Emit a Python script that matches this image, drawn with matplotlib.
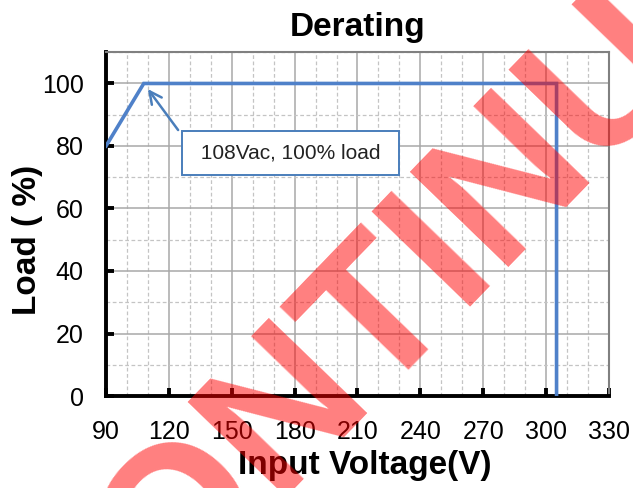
import matplotlib.pyplot as plt
from matplotlib.ticker import MultipleLocator

# derating curve
voltage = [90, 108, 305, 305]
load = [80, 100, 100, 0]

x_ticks = [90, 120, 150, 180, 210, 240, 270, 300, 330]
y_ticks = [0, 20, 40, 60, 80, 100]

note_text = " 108Vac, 100% load "
note_xy = (108, 100)
note_box = (178, 77.9)
note_corner = (124.4, 85.1)

watermark = "DISCONTINUED"

plt.rcParams['font.family'] = ['Liberation Sans', 'DejaVu Sans']

fig = plt.figure(figsize=(6.33, 4.88), dpi=100)
ax = fig.add_axes([0.1675, 0.1885, 0.7945, 0.7045])

ax.plot(voltage, load, color='#4f81c9', lw=2.6, solid_joinstyle='miter', zorder=3)

ax.set_xlim(90, 330)
ax.set_ylim(0, 110)
ax.set_xticks(x_ticks)
ax.set_yticks(y_ticks)
ax.xaxis.set_minor_locator(MultipleLocator(10))
ax.yaxis.set_minor_locator(MultipleLocator(10))

ax.grid(which='major', color='#a8a8a8', lw=1.1)
ax.grid(which='minor', color='#c4c4c4', lw=0.9, ls=(0, (3, 2)))
ax.set_axisbelow(True)

for side in ['top', 'right']:
    ax.spines[side].set_color('#808080')
    ax.spines[side].set_linewidth(1.5)
for side in ['left', 'bottom']:
    ax.spines[side].set_color('black')
    ax.spines[side].set_linewidth(2.8)

ax.tick_params(which='major', direction='in', length=6, width=2.8, labelsize=18)
ax.tick_params(axis='x', pad=17)
ax.tick_params(axis='y', pad=16)
ax.tick_params(which='minor', length=0)

ax.set_title('Derating', fontsize=24, fontweight='bold', pad=12)
ax.set_xlabel('Input Voltage(V)', fontsize=24, fontweight='bold')
ax.set_ylabel('Load ( %)', fontsize=24, fontweight='bold')
ax.xaxis.set_label_coords(0.515, -0.158)
ax.yaxis.set_label_coords(-0.125, 0.453)

# callout box and its arrow
ax.text(note_box[0], note_box[1], note_text, fontsize=15, ha='center', va='center',
        color='#222222', zorder=4,
        bbox=dict(boxstyle='square,pad=0.6', fc='white', ec='#4a7ebb', lw=1.4))
ax.annotate('', xy=note_xy, xytext=note_corner,
            arrowprops=dict(arrowstyle='->', color='#4a7ebb', lw=1.8,
                            shrinkA=0, shrinkB=5, mutation_scale=22),
            zorder=4)

# red watermark across the chart
fig.text(0.573, 0.170, watermark, fontsize=143, fontweight='bold', color='red',
         alpha=0.5, rotation=46, ha='center', va='baseline',
         rotation_mode='anchor', zorder=10,
         family=['Liberation Sans Narrow', 'Liberation Sans'])

fig.savefig('out.png', dpi=100)
